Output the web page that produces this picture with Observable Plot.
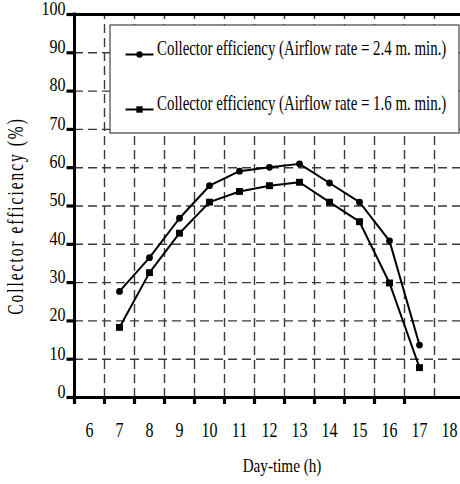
<!DOCTYPE html>
<html><head><meta charset="utf-8">
<script src="https://cdn.jsdelivr.net/npm/d3@7"></script>
<script src="https://cdn.jsdelivr.net/npm/@observablehq/plot@0.6"></script>
<style>html,body{margin:0;padding:0;background:#fff;overflow:hidden}</style>
</head><body><div id="chart"></div>
<script>
// ---- data ----
const hours = [7, 8, 9, 10, 11, 12, 13, 14, 15, 16, 17];
const eff24 = [27.7, 36.5, 46.8, 55.3, 59.1, 60.1, 61.0, 56.0, 51.0, 40.9, 13.7];
const eff16 = [18.3, 32.6, 42.9, 51.0, 53.8, 55.3, 56.2, 51.0, 45.9, 29.9, 7.8];
const seriesNames = [
  "Collector efficiency (Airflow rate = 2.4 m. min.)",
  "Collector efficiency (Airflow rate = 1.6 m. min.)"
];
const seriesSymbols = ["circle", "square"];
const xTickLabels = [6, 7, 8, 9, 10, 11, 12, 13, 14, 15, 16, 17, 18];
const yTickLabels = [0, 10, 20, 30, 40, 50, 60, 70, 80, 90, 100];
const xTitle = "Day-time (h)";
const yTitle = "Collector efficiency (%)";

// ---- layout ----
const W = 460, H = 484;
const ML = 74, MR = -4, MT = 14, MB = 87;
const xDom = [5.5, 18.5], yDom = [0, 100];
const xv = px => xDom[0] + (px - ML) / ((W - MR) - ML) * (xDom[1] - xDom[0]);
const yv = px => yDom[0] + ((H - MB) - px) / ((H - MB) - MT) * (yDom[1] - yDom[0]);

const rows = [];
hours.forEach((h, i) => {
  rows.push({hour: h, eff: eff24[i], series: seriesNames[0]});
  rows.push({hour: h, eff: eff16[i], series: seriesNames[1]});
});
const s24 = rows.filter(d => d.series === seriesNames[0]);
const s16 = rows.filter(d => d.series === seriesNames[1]);

const bandEdges = xTickLabels.slice(0, -1).map(v => v - 0.5);   // 5.5 … 17.5
const gridX = xTickLabels.slice(0, -1).map(v => v + 0.5);       // 6.5 … 17.5
const gridY = yTickLabels.slice(1, -1);                          // 10 … 90

const legendBox = [{x1: xv(110), x2: xv(459), y1: yv(25), y2: yv(133)}];
const legendRowsPx = [54, 109];
const legendRows = seriesNames.map((name, i) => ({
  name, symbol: seriesSymbols[i],
  x1: xv(125), x2: xv(153), xm: xv(139), xt: xv(156.5), y: yv(legendRowsPx[i])
}));

const gridStyle = {stroke: "#3a3a3a", strokeWidth: 1.4, strokeDasharray: "9,5"};
const tickStyle = {stroke: "black", strokeWidth: 3.2};

const chart = Plot.plot({
  width: W, height: H,
  marginLeft: ML, marginRight: MR, marginTop: MT, marginBottom: MB,
  x: {type: "linear", domain: xDom},
  y: {type: "linear", domain: yDom},
  style: {fontFamily: "'Liberation Serif', 'Times New Roman', serif", background: "white", color: "black"},
  marks: [
    Plot.ruleY(gridY, gridStyle),
    Plot.ruleX(gridX, {...gridStyle, y1: yDom[0], y2: yDom[1]}),
    Plot.rect(legendBox, {x1: "x1", x2: "x2", y1: "y1", y2: "y2", fill: "white", stroke: "#444", strokeWidth: 1.2}),
    Plot.line(s24, {x: "hour", y: "eff", stroke: "black", strokeWidth: 2}),
    Plot.line(s16, {x: "hour", y: "eff", stroke: "black", strokeWidth: 2}),
    Plot.dot(s24, {x: "hour", y: "eff", symbol: seriesSymbols[0], r: 3.4, fill: "black", stroke: "none"}),
    Plot.dot(s16, {x: "hour", y: "eff", symbol: seriesSymbols[1], r: 3.9, fill: "black", stroke: "none"}),
    Plot.link(legendRows, {x1: "x1", x2: "x2", y1: "y", y2: "y", stroke: "black", strokeWidth: 2}),
    Plot.dot(legendRows.slice(0, 1), {x: "xm", y: "y", symbol: "circle", r: 3.2, fill: "black", stroke: "none"}),
    Plot.dot(legendRows.slice(1), {x: "xm", y: "y", symbol: "square", r: 3.6, fill: "black", stroke: "none"}),
    Plot.text(legendRows, {x: "xt", y: "y", text: "name", textAnchor: "start", fontSize: 20, fill: "black"}),
    // frame lines
    Plot.ruleY([yDom[0]], {stroke: "black", strokeWidth: 3}),
    Plot.ruleY([yDom[1]], {stroke: "black", strokeWidth: 3}),
    Plot.ruleX([xDom[0]], {y1: yDom[0], y2: yDom[1], stroke: "black", strokeWidth: 3, strokeLinecap: "square"}),
    // tick marks
    Plot.ruleY(yTickLabels, {x1: xv(66.5), x2: xDom[0], ...tickStyle}),
    Plot.ruleX(bandEdges, {y1: yDom[0], y2: yv(404), ...tickStyle}),
    // tick labels
    Plot.axisY(yTickLabels, {tickSize: 6, tickPadding: 3, strokeOpacity: 0, fill: "black", fontSize: 18, label: null, tickFormat: d => String(d)}),
    Plot.axisX(xTickLabels, {tickSize: 0, tickPadding: 39, strokeOpacity: 0, fill: "black", fontSize: 20, label: null, tickFormat: d => String(d)}),
    // titles
    Plot.text([xTitle], {frameAnchor: "bottom", lineAnchor: "middle", textAnchor: "middle", dx: 12.5, dy: 74, fontSize: 18.5, fill: "black"}),
    Plot.text([yTitle], {frameAnchor: "left", lineAnchor: "middle", textAnchor: "middle", rotate: -90, dx: -52, dy: 10, fontSize: 23, fill: "black"})
  ]
});
document.getElementById("chart").appendChild(chart);

// condense the (narrow-looking) serif text horizontally around its anchor,
// by wrapping each text element in groups (keeps Plot's own positioning).
const NS = "http://www.w3.org/2000/svg";
const sxBySize = {"20": 0.745, "18": 0.89, "18.5": 0.82, "23": 0.67};
const num = v => { const n = parseFloat(v); return isFinite(n) ? n : 0; };
Array.from(chart.querySelectorAll("g[font-size]")).forEach(g => {
  const key = String(parseFloat(g.getAttribute("font-size")));
  let sx = sxBySize[key];
  if (!sx) return;
  if (g.getAttribute("aria-label") === "x-axis tick label") sx = 0.80;
  Array.from(g.querySelectorAll("text")).forEach(t => {
    const tr = t.getAttribute("transform");
    const x = num(t.getAttribute("x")), y = num(t.getAttribute("y"));
    const outer = document.createElementNS(NS, "g");
    if (tr) outer.setAttribute("transform", tr);
    const inner = document.createElementNS(NS, "g");
    inner.setAttribute("transform", "translate(" + x + "," + y + ") scale(" + sx + ",1)");
    t.parentNode.insertBefore(outer, t);
    outer.appendChild(inner);
    inner.appendChild(t);
    t.removeAttribute("transform");
    if (t.hasAttribute("x")) t.setAttribute("x", 0);
    if (t.hasAttribute("y")) t.setAttribute("y", 0);
    if (key === "23") t.setAttribute("letter-spacing", "3");
  });
});
</script>
</body></html>
